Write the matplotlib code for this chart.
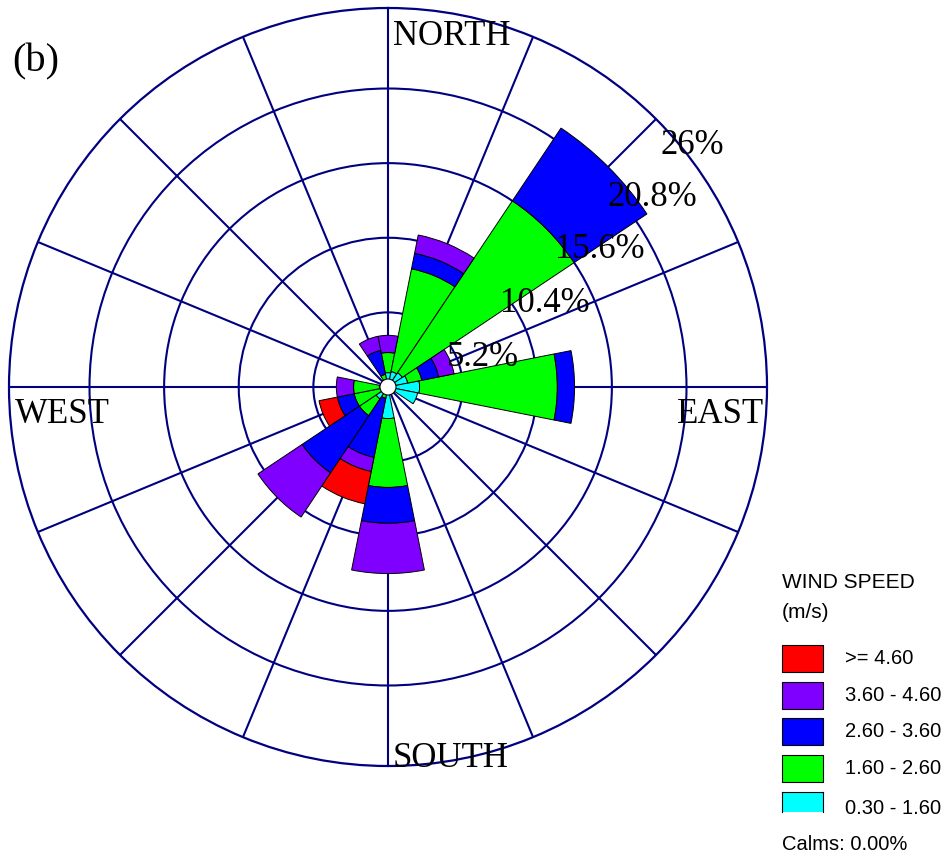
import numpy as np
import matplotlib
matplotlib.use("Agg")
import matplotlib.pyplot as plt
from matplotlib.patches import Rectangle, Circle
from matplotlib.lines import Line2D

# Wind directions (16 sectors, clockwise from north)
directions = ["N", "NNE", "NE", "ENE", "E", "ESE", "SE", "SSE",
              "S", "SSW", "SW", "WSW", "W", "WNW", "NW", "NNW"]

# Frequency (%) per direction for each wind-speed class
freq_030_160 = [1.0, 1.1, 1.2, 1.4, 2.2, 2.1, 0.0, 0.0, 2.2, 0.4, 1.0, 0.5, 0.6, 0.0, 0.0, 0.4]
freq_160_260 = [1.4, 7.3, 14.4, 1.0, 9.6, 0.0, 0.0, 0.0, 4.8, 0.4, 1.4, 1.9, 1.8, 0.0, 0.0, 0.5]
freq_260_360 = [0.0, 1.1, 6.1, 1.2, 1.2, 0.0, 0.0, 0.0, 2.5, 4.2, 4.8, 1.2, 0.0, 0.0, 0.0, 1.7]
freq_360_460 = [1.2, 1.3, 0.0, 1.1, 0.0, 0.0, 0.0, 0.0, 3.5, 1.0, 3.7, 0.0, 1.2, 0.0, 0.0, 1.0]
freq_460_up = [0.0, 0.0, 0.0, 0.0, 0.0, 0.0, 0.0, 0.0, 0.0, 2.3, 0.0, 1.3, 0.0, 0.0, 0.0, 0.0]

speed_labels = [">= 4.60", "3.60 - 4.60", "2.60 - 3.60", "1.60 - 2.60", "0.30 - 1.60"]
speed_colors = ["#FF0000", "#8000FF", "#0000FF", "#00FF00", "#00FFFF"]

ring_values = [5.2, 10.4, 15.6, 20.8]
ring_labels = ["5.2%", "10.4%", "15.6%", "20.8%", "26%"]
calms_pct = 0.00
calm_circle_radius = 0.56
r_max = 26.41

navy = "#000080"
W, H = 952, 859
fig = plt.figure(figsize=(W / 100, H / 100), dpi=100)
fig.patch.set_facecolor("white")

# polar rose: centre and radius in pixels
cx, cy, R = 388, 387, 379
ax = fig.add_axes([(cx - R) / W, 1 - (cy + R) / H, 2 * R / W, 2 * R / H],
                  projection="polar")
ax.set_theta_zero_location("N")
ax.set_theta_direction(-1)
ax.set_ylim(0, r_max)
ax.set_thetagrids(np.arange(0, 360, 22.5), labels=[""] * 16)
ax.set_rgrids(ring_values, labels=[""] * len(ring_values))
ax.grid(True, color=navy, linewidth=1.5)
ax.spines["polar"].set_color(navy)
ax.spines["polar"].set_linewidth(1.6)
ax.set_axisbelow(True)

theta = np.deg2rad(np.arange(len(directions)) * 22.5)
width = np.deg2rad(22.5)
stack = [(freq_030_160, "#00FFFF"), (freq_160_260, "#00FF00"),
         (freq_260_360, "#0000FF"), (freq_360_460, "#8000FF"),
         (freq_460_up, "#FF0000")]
base = np.zeros(len(directions))
for vals, col in stack:
    v = np.asarray(vals, dtype=float)
    m = v > 0
    ax.bar(theta[m], v[m], width=width, bottom=base[m], color=col,
           edgecolor="black", linewidth=0.7, zorder=3)
    base += v

ax.add_patch(Circle((0.5, 0.5), calm_circle_radius / r_max * 0.5,
                    transform=ax.transAxes, facecolor="white",
                    edgecolor="black", linewidth=0.8, zorder=6))

# overlay in pixel coordinates for labels and legend
ov = fig.add_axes([0, 0, 1, 1])
ov.set_xlim(0, W)
ov.set_ylim(H, 0)
ov.axis("off")

serif = "Liberation Serif"
sans = "Liberation Sans"
ov.text(393, 45, "NORTH", fontsize=25, family=serif, ha="left", va="baseline")
ov.text(677, 423, "EAST", fontsize=25, family=serif, ha="left", va="baseline")
ov.text(393, 767, "SOUTH", fontsize=25, family=serif, ha="left", va="baseline")
ov.text(15, 423, "WEST", fontsize=25, family=serif, ha="left", va="baseline")
ov.text(12, 62, "(b)", fontsize=29, family=serif, ha="left", va="center")

label_xy = [(483, 357), (545, 303), (600, 250), (652, 198), (692, 145)]
for (x, y), txt in zip(label_xy, ring_labels):
    ov.text(x, y, txt, fontsize=25, family=serif, ha="center", va="center",
            zorder=10)

# legend
ov.text(782, 583, "WIND SPEED", fontsize=15, family=sans, ha="left", va="center")
ov.text(782, 613, "(m/s)", fontsize=15, family=sans, ha="left", va="center")
box_tops = [645, 682, 718, 755, 792]
for i, (lab, col, top) in enumerate(zip(speed_labels, speed_colors, box_tops)):
    if i < len(speed_labels) - 1:
        ov.add_patch(Rectangle((782, top), 41, 27, facecolor=col,
                               edgecolor="black", linewidth=0.8))
        yc = top + 13.5
    else:
        ov.add_patch(Rectangle((782, top), 41, 20, facecolor=col,
                               edgecolor="none"))
        for xs, ys in [([782, 823], [top, top]), ([782, 782], [top, top + 20]),
                       ([823, 823], [top, top + 20])]:
            ov.add_line(Line2D(xs, ys, color="black", linewidth=0.8))
        yc = top + 16
    ov.text(845, yc, lab, fontsize=14.5, family=sans, ha="left", va="center")

ov.text(782, 845, f"Calms: {calms_pct:.2f}%", fontsize=14.5, family=sans,
        ha="left", va="center")

fig.savefig("out.png", dpi=100)
